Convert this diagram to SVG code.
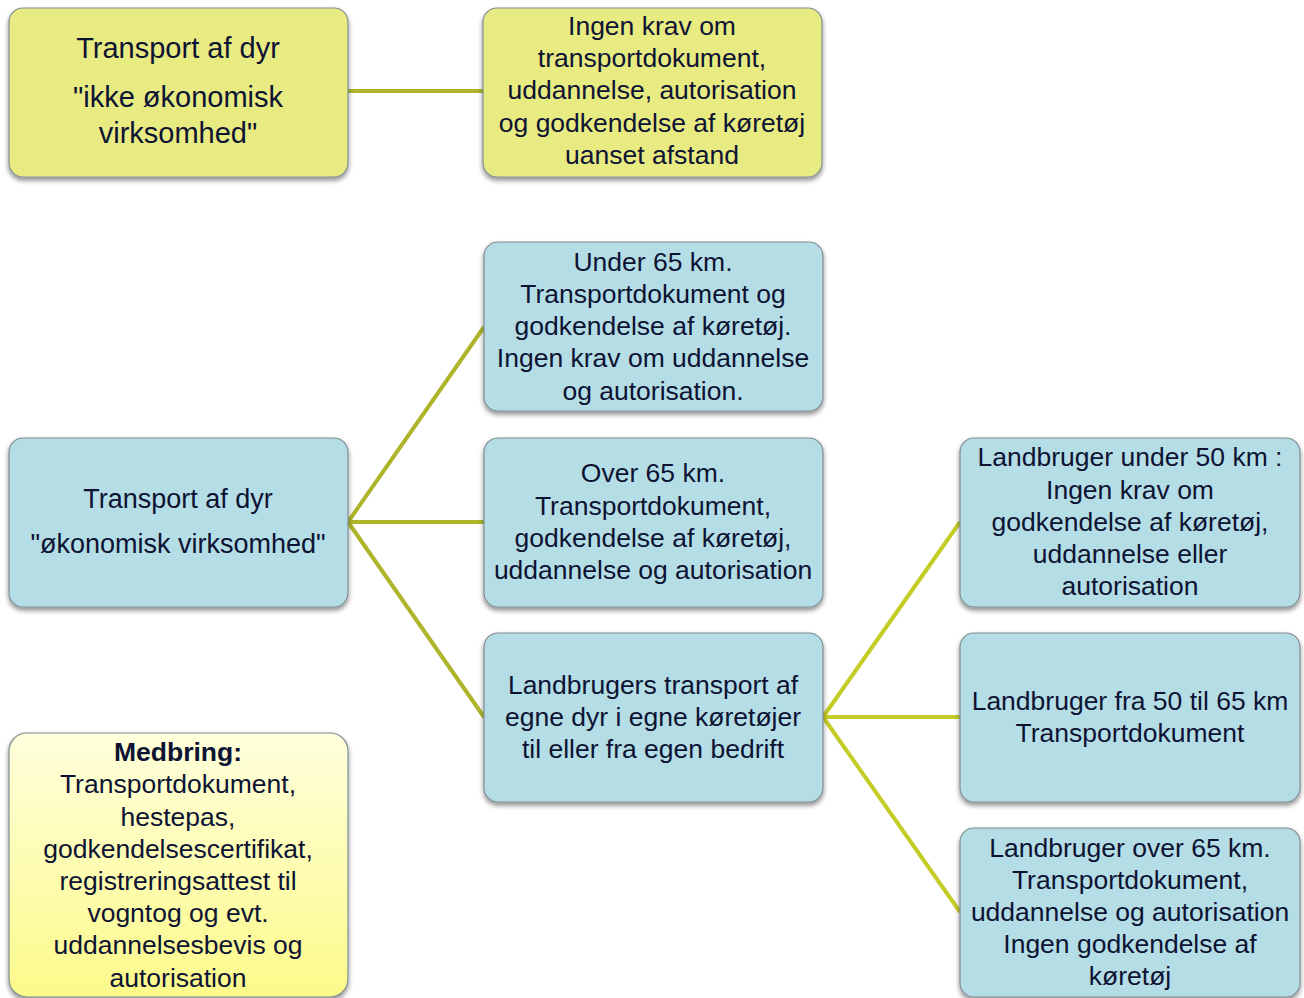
<svg xmlns="http://www.w3.org/2000/svg" width="1304" height="998" viewBox="0 0 1304 998">
<defs>
<filter id="sh" x="-10%" y="-10%" width="120%" height="125%">
<feGaussianBlur in="SourceAlpha" stdDeviation="2.5"/>
<feOffset dx="0" dy="3" result="b"/>
<feComponentTransfer><feFuncA type="linear" slope="0.45"/></feComponentTransfer>
<feMerge><feMergeNode/><feMergeNode in="SourceGraphic"/></feMerge>
</filter>
<linearGradient id="gy" x1="0" y1="0" x2="0" y2="1">
<stop offset="0" stop-color="#ffffdc"/>
<stop offset="1" stop-color="#fcfa8a"/>
</linearGradient>
</defs>
<style>
.box{stroke:#7f8e92;stroke-width:1.2;filter:url(#sh)}
.y{fill:#e8ea82}
.b{fill:#b5dde6}
.g{fill:url(#gy)}
text{font-family:"Liberation Sans",Arial,sans-serif;font-size:26.5px;fill:#0d1333;text-anchor:middle}
.lg{font-size:29px}
.md{font-size:27px}
.c1{stroke:#aeb52a;stroke-width:4;fill:none}
.c2{stroke:#c4cc26;stroke-width:4;fill:none}
</style>
<rect width="1304" height="998" fill="#ffffff"/>
<g id="connectors">
<line class="c1" x1="348" y1="91" x2="483" y2="91"/>
<line class="c1" x1="348" y1="522" x2="484" y2="327"/>
<line class="c1" x1="348" y1="522" x2="484" y2="522"/>
<line class="c1" x1="348" y1="522" x2="484" y2="717"/>
<line class="c2" x1="823" y1="717" x2="960" y2="522"/>
<line class="c2" x1="823" y1="717" x2="960" y2="717"/>
<line class="c2" x1="823" y1="717" x2="960" y2="912"/>
</g>
<g id="nodeA">
<rect class="box y" x="9" y="8" width="339" height="169" rx="14"/>
<text class="lg" x="178" y="58">Transport af dyr</text>
<text class="lg" x="178" y="107">"ikke økonomisk</text>
<text class="lg" x="178" y="143">virksomhed"</text>
</g>
<g id="nodeB">
<rect class="box y" x="483" y="8" width="339" height="169" rx="14"/>
<text x="652" y="35">Ingen krav om</text>
<text x="652" y="67">transportdokument,</text>
<text x="652" y="99">uddannelse, autorisation</text>
<text x="652" y="132">og godkendelse af køretøj</text>
<text x="652" y="164">uanset afstand</text>
</g>
<g id="nodeC">
<rect class="box b" x="9" y="438" width="339" height="169" rx="14"/>
<text class="md" x="178" y="508">Transport af dyr</text>
<text class="md" x="178" y="553">"økonomisk virksomhed"</text>
</g>
<g id="nodeD">
<rect class="box b" x="484" y="242" width="339" height="169" rx="14"/>
<text x="653" y="271">Under 65 km.</text>
<text x="653" y="303">Transportdokument og</text>
<text x="653" y="335">godkendelse af køretøj.</text>
<text x="653" y="367">Ingen krav om uddannelse</text>
<text x="653" y="400">og autorisation.</text>
</g>
<g id="nodeE">
<rect class="box b" x="484" y="438" width="339" height="169" rx="14"/>
<text x="653" y="482">Over 65 km.</text>
<text x="653" y="515">Transportdokument,</text>
<text x="653" y="547">godkendelse af køretøj,</text>
<text x="653" y="579">uddannelse og autorisation</text>
</g>
<g id="nodeF">
<rect class="box b" x="484" y="633" width="339" height="169" rx="14"/>
<text x="653" y="694">Landbrugers transport af</text>
<text x="653" y="726">egne dyr i egne køretøjer</text>
<text x="653" y="758">til eller fra egen bedrift</text>
</g>
<g id="nodeG">
<rect class="box b" x="960" y="438" width="340" height="169" rx="14"/>
<text x="1130" y="466">Landbruger under 50 km :</text>
<text x="1130" y="499">Ingen krav om</text>
<text x="1130" y="531">godkendelse af køretøj,</text>
<text x="1130" y="563">uddannelse eller</text>
<text x="1130" y="595">autorisation</text>
</g>
<g id="nodeH">
<rect class="box b" x="960" y="633" width="340" height="169" rx="14"/>
<text x="1130" y="710">Landbruger fra 50 til 65 km</text>
<text x="1130" y="742">Transportdokument</text>
</g>
<g id="nodeI">
<rect class="box b" x="960" y="828" width="340" height="169" rx="14"/>
<text x="1130" y="857">Landbruger over 65 km.</text>
<text x="1130" y="889">Transportdokument,</text>
<text x="1130" y="921">uddannelse og autorisation</text>
<text x="1130" y="953">Ingen godkendelse af</text>
<text x="1130" y="985">køretøj</text>
</g>
<g id="nodeMedbring">
<rect class="box g" x="9" y="733" width="339" height="264" rx="18"/>
<text x="178" y="761" font-weight="bold">Medbring:</text>
<text x="178" y="793">Transportdokument,</text>
<text x="178" y="826">hestepas,</text>
<text x="178" y="858">godkendelsescertifikat,</text>
<text x="178" y="890">registreringsattest til</text>
<text x="178" y="922">vogntog og evt.</text>
<text x="178" y="954">uddannelsesbevis og</text>
<text x="178" y="987">autorisation</text>
</g>
</svg>
